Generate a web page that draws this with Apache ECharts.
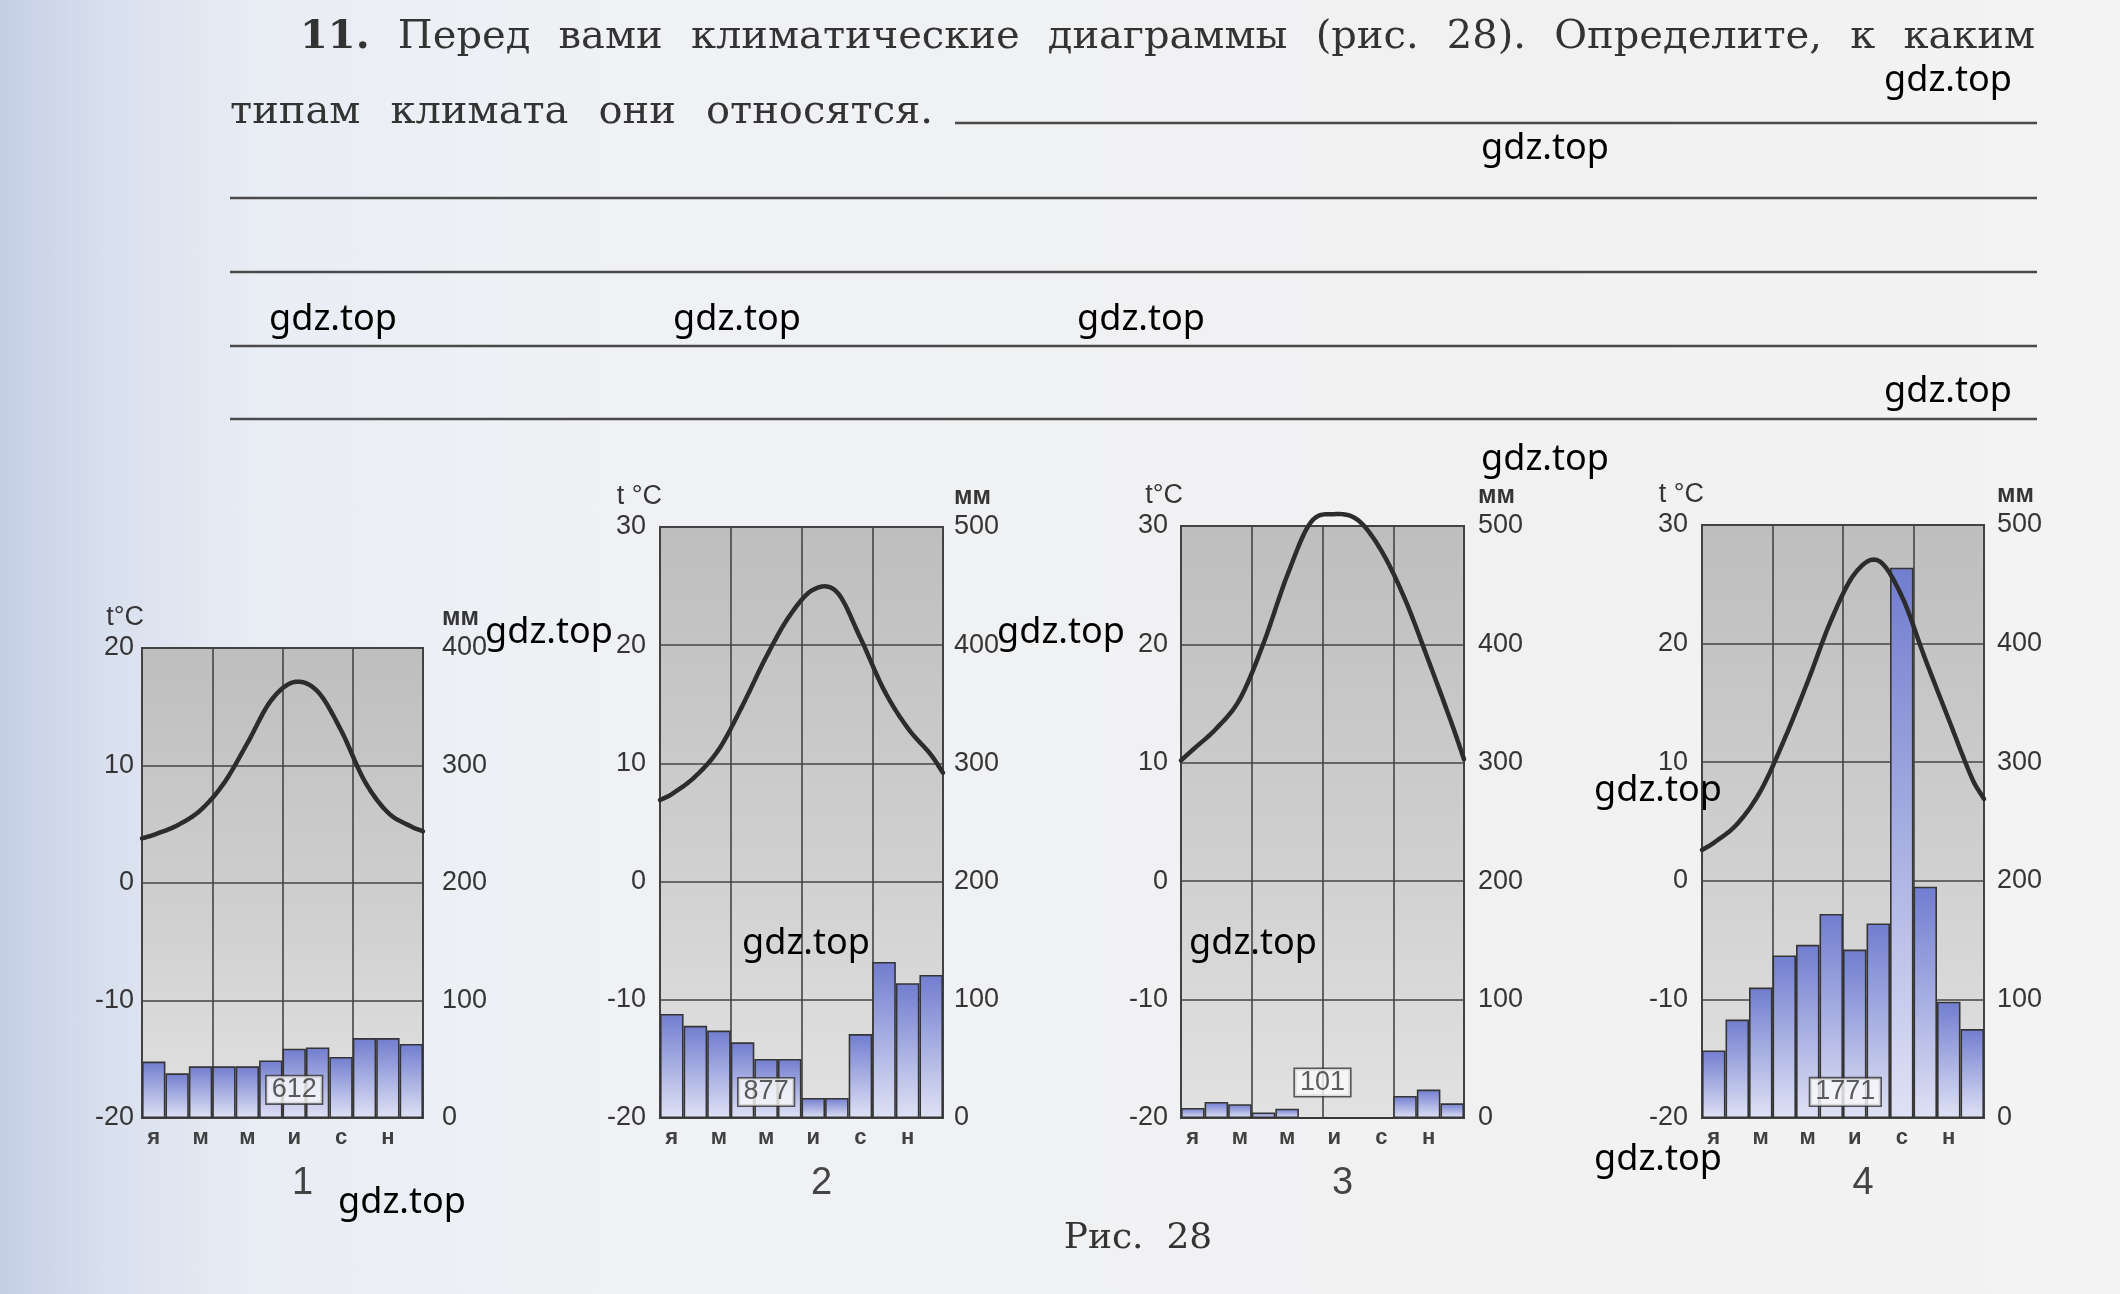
<!DOCTYPE html>
<html><head><meta charset="utf-8">
<script src="https://cdn.jsdelivr.net/npm/echarts@6/dist/echarts.min.js"></script>
<style>
html,body{margin:0;padding:0;}
body{background:linear-gradient(90deg,#c4cee5 0px,#d9e0ee 110px,#e9edf4 260px,#eff1f4 600px,#f1f1f2 1500px,#f3f3f3 2120px);}
#c{width:2120px;height:1294px;}
</style>
</head><body><div id="c"></div>
<script>
// ---------- DATA ----------
const months = ['я','ф','м','а','м','и','и','а','с','о','н','д'];

// Diagram 1
const temp1 = [4.1, 4.9, 6.2, 8.5, 11.9, 15.5, 17.1, 16.3, 13.0, 8.7, 6.0, 4.8];
const temp1Edges = [3.8, 4.4];
const precip1 = [48, 38, 44, 44, 44, 49, 59, 60, 52, 68, 68, 63];
const total1 = '612';

// Diagram 2
const temp2 = [7.4, 8.9, 11.2, 14.9, 19.0, 22.5, 24.7, 24.5, 20.6, 16.2, 13.0, 10.7];
const temp2Edges = [6.9, 9.2];
const precip2 = [88, 78, 74, 64, 50, 50, 17, 17, 71, 132, 114, 121];
const total2 = '877';

// Diagram 3
const temp3 = [11.1, 12.9, 15.4, 20.1, 25.8, 30.3, 31.0, 30.5, 27.9, 23.8, 18.6, 13.2];
const temp3Edges = [10.2, 10.3];
const precip3 = [8.5, 13.6, 11.6, 4.7, 7.8, 0, 0, 0, 0, 18.6, 24, 12.4];
const total3 = '101';

// Diagram 4
const temp4 = [3.2, 4.8, 7.6, 11.9, 16.8, 22.0, 25.9, 27.0, 24.0, 18.7, 13.6, 8.6];
const temp4Edges = [2.6, 6.9];
const precip4 = [57, 83, 110, 137, 146, 172, 142, 164, 464, 195, 98, 75];
const total4 = '1771';

const tempRange1 = [-20, 20];   // temperature axis range, diagram 1
const tempRange = [-20, 30];    // temperature axis range, diagrams 2-4
const precipMax1 = 400;
const precipMax = 500;
const diagramNames = ['1', '2', '3', '4'];
const titleLine1 = ['11.', 'Перед', 'вами', 'климатические', 'диаграммы', '(рис.', '28).', 'Определите,', 'к', 'каким'];
const titleLine2 = ['типам', 'климата', 'они', 'относятся.'];
const caption = 'Рис.  28';
const watermark = 'gdz.top';

// ---------- LAYOUT ----------
const charts = [
  {temp: temp1, edges: temp1Edges, precip: precip1, total: total1, tRange: tempRange1, pMax: precipMax1,
   grid: {left: 142, top: 648, width: 281, height: 470}, lm: 8, rm: 19, tUnit: 't°C', boxAt: [6.5, 24]},
  {temp: temp2, edges: temp2Edges, precip: precip2, total: total2, tRange: tempRange, pMax: precipMax,
   grid: {left: 660, top: 527, width: 283, height: 591}, lm: 14, rm: 11, tUnit: 't °C', boxAt: [4.5, 22]},
  {temp: temp3, edges: temp3Edges, precip: precip3, total: total3, tRange: tempRange, pMax: precipMax,
   grid: {left: 1181, top: 526, width: 283, height: 592}, lm: 13, rm: 14, tUnit: 't°C', boxAt: [6.0, 30]},
  {temp: temp4, edges: temp4Edges, precip: precip4, total: total4, tRange: tempRange, pMax: precipMax,
   grid: {left: 1702, top: 525, width: 282, height: 593}, lm: 14, rm: 13, tUnit: 't °C', boxAt: [6.1, 22]}
];

const INK = '#353535';
const SANS = '"Liberation Sans", Arial, sans-serif';
const SERIF = '"DejaVu Serif", "Liberation Serif", serif';

// Catmull-Rom (finite-difference tangents) drawing of the curve through the pixel points
function cardinal(px, steps) {
  const n = px.length, x = px.map(p => p[0]), y = px.map(p => p[1]);
  const t = [];
  for (let i = 0; i < n; i++) {
    if (i === 0) t[i] = (y[1] - y[0]) / (x[1] - x[0]);
    else if (i === n - 1) t[i] = (y[n - 1] - y[n - 2]) / (x[n - 1] - x[n - 2]);
    else t[i] = (y[i + 1] - y[i - 1]) / (x[i + 1] - x[i - 1]);
  }
  const out = [];
  for (let k = 0; k < n - 1; k++) {
    const h = x[k + 1] - x[k];
    for (let s = 0; s < steps; s++) {
      const u = s / steps, u2 = u * u, u3 = u2 * u;
      const a = 2 * u3 - 3 * u2 + 1, b = u3 - 2 * u2 + u, c = -2 * u3 + 3 * u2, e = u3 - u2;
      out.push([x[k] + u * h, a * y[k] + b * h * t[k] + c * y[k + 1] + e * h * t[k + 1]]);
    }
  }
  out.push(px[n - 1]);
  return out;
}

const grids = [], xAxes = [], yAxes = [], series = [], graphics = [];

charts.forEach((c, i) => {
  grids.push(Object.assign({
    show: true, borderColor: '#3d3d3d', borderWidth: 2,
    backgroundColor: new echarts.graphic.LinearGradient(0, 0, 0, 1, [
      {offset: 0, color: '#bebebe'}, {offset: 0.55, color: '#cfcfcf'}, {offset: 1, color: '#e2e2e2'}
    ])
  }, c.grid));
  xAxes.push({
    type: 'category', gridIndex: i, data: months, boundaryGap: true,
    axisLine: {show: false}, axisTick: {show: false}, splitLine: {show: false},
    axisLabel: {interval: 1, fontFamily: SANS, fontWeight: 'bold', fontSize: 22, color: '#404040', margin: 9}
  });
  xAxes.push({
    type: 'value', gridIndex: i, min: 0, max: 12, interval: 3,
    axisLine: {show: false}, axisTick: {show: false}, axisLabel: {show: false},
    splitLine: {show: true, lineStyle: {color: '#444', width: 1.6}}
  });
  yAxes.push({
    type: 'value', gridIndex: i, position: 'left', min: c.tRange[0], max: c.tRange[1], interval: 10,
    axisLine: {show: false}, axisTick: {show: false},
    axisLabel: {fontFamily: SANS, fontSize: 27, color: INK, margin: c.lm},
    splitLine: {show: true, lineStyle: {color: '#444', width: 1.6}}
  });
  yAxes.push({
    type: 'value', gridIndex: i, position: 'right', min: 0, max: c.pMax, interval: 100,
    axisLine: {show: false}, axisTick: {show: false},
    axisLabel: {fontFamily: SANS, fontSize: 27, color: INK, margin: c.rm},
    splitLine: {show: false}
  });
  series.push({
    type: 'bar', xAxisIndex: 2 * i, yAxisIndex: 2 * i + 1, data: c.precip,
    barCategoryGap: '0%', z: 3,
    itemStyle: {
      borderColor: '#353535', borderWidth: 1.6,
      color: new echarts.graphic.LinearGradient(0, 0, 0, 1, [
        {offset: 0, color: '#717dcf'}, {offset: 1, color: '#dfe2f5'}
      ])
    }
  });
  const pts = [[0, c.edges[0]]];
  c.temp.forEach((tv, k) => pts.push([k + 0.5, tv]));
  pts.push([12, c.edges[1]]);
  series.push({
    type: 'custom', coordinateSystem: 'cartesian2d', xAxisIndex: 2 * i + 1, yAxisIndex: 2 * i,
    data: pts, encode: {x: 0, y: 1}, clip: false, z: 5,
    renderItem: (params, api) => {
      if (params.dataIndex !== 0) return null;
      const px = pts.map(p => api.coord(p));
      return {type: 'polyline', shape: {points: cardinal(px, 16)},
        style: {stroke: '#2c2c2c', lineWidth: 4.5, fill: null, lineJoin: 'round', lineCap: 'round'}};
    }
  });
  series.push({
    type: 'scatter', xAxisIndex: 2 * i + 1, yAxisIndex: 2 * i, symbolSize: 0, z: 6,
    data: [[c.boxAt[0], c.tRange[0] + c.boxAt[1] * (c.tRange[1] - c.tRange[0]) / c.pMax]],
    label: {show: true, position: 'inside', formatter: c.total, fontFamily: SANS, fontSize: 27, color: INK,
      backgroundColor: '#fbfbfb', borderColor: '#333', borderWidth: 1.6, padding: [1, 5, -1, 5]}
  });
  const g = c.grid;
  graphics.push({type: 'text', z: 10, style: {text: c.tUnit, x: g.left + 2, y: g.top - 30, textAlign: 'right', textVerticalAlign: 'middle',
    font: '27px ' + SANS, fill: INK}});
  graphics.push({type: 'text', z: 10, style: {text: 'мм', x: g.left + g.width + c.rm, y: g.top - 30, textAlign: 'left', textVerticalAlign: 'middle',
    font: 'bold 25px ' + SANS, fill: INK}});
  graphics.push({type: 'text', z: 10, style: {text: diagramNames[i], x: g.left + g.width / 2 + 20, y: 1184, textAlign: 'center', textVerticalAlign: 'middle',
    font: '38px ' + SANS, fill: '#444'}});
});

// ---------- TEXT BLOCK ----------
const mctx = document.createElement('canvas').getContext('2d');
function justify(words, x0, x1, baseline, size, boldFirst) {
  const fonts = words.map((w, k) => ((boldFirst && k === 0) ? 'bold ' : '') + size + 'px ' + SERIF);
  const widths = words.map((w, k) => { mctx.font = fonts[k]; return mctx.measureText(w).width; });
  const total = widths.reduce((a, b) => a + b, 0);
  const gap = (x1 - x0 - total) / (words.length - 1);
  let x = x0;
  words.forEach((w, k) => {
    graphics.push({type: 'text', z: 10, style: {text: w, x: x, y: baseline - size * 0.35, textAlign: 'left', textVerticalAlign: 'middle',
      font: fonts[k], fill: '#333'}});
    x += widths[k] + gap;
  });
}
justify(titleLine1, 300, 2035, 52, 40, true);
justify(titleLine2, 230, 933, 127, 40, false);

[[955, 123], [230, 198], [230, 272], [230, 346], [230, 419]].forEach(r => {
  graphics.push({type: 'line', z: 9, shape: {x1: r[0], y1: r[1], x2: 2037, y2: r[1]}, style: {stroke: '#4a4a4a', lineWidth: 2.6}});
});

graphics.push({type: 'text', z: 10, style: {text: caption, x: 1138, y: 1239, textAlign: 'center', textVerticalAlign: 'middle',
  font: '36px ' + SERIF, fill: '#333'}});

[[1948, 81], [1545, 149], [333, 320], [737, 320], [1141, 320], [1948, 392], [1545, 460], [549, 633], [1061, 633],
 [806, 944], [1253, 944], [1658, 791], [1658, 1160], [402, 1203]].forEach(p => {
  graphics.push({type: 'text', z: 20, zlevel: 1, style: {text: watermark, x: p[0], y: p[1], textAlign: 'center', textVerticalAlign: 'middle',
    font: '36px "Noto Sans", "Open Sans", sans-serif', fill: '#000'}});
});

const chart = echarts.init(document.getElementById('c'), null, {renderer: 'canvas'});
chart.setOption({
  animation: false,
  backgroundColor: 'transparent',
  grid: grids, xAxis: xAxes, yAxis: yAxes, series: series, graphic: graphics
});
</script>
</body></html>
